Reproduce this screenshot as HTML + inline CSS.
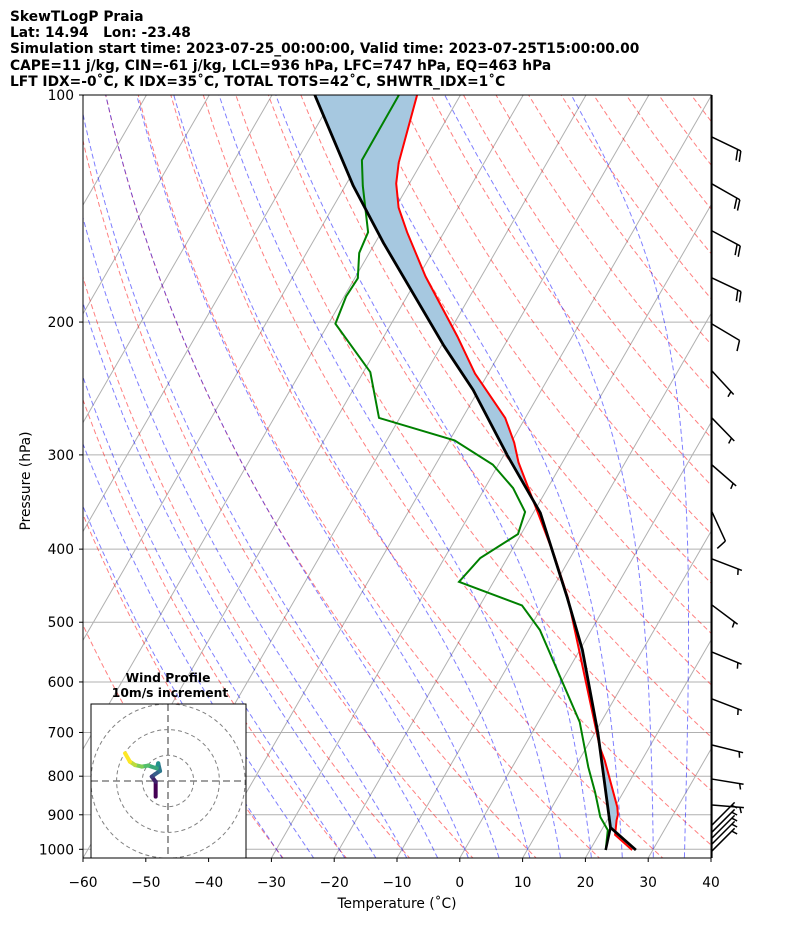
<!DOCTYPE html>
<html><head><meta charset="utf-8"><style>
html,body{margin:0;padding:0;background:#fff;}
svg{display:block;font-family:"DejaVu Sans","Liberation Sans",sans-serif;}
</style></head><body>
<svg id="chart" width="794" height="937" viewBox="0 0 794 937" xmlns="http://www.w3.org/2000/svg">
<defs><clipPath id="plotclip"><rect x="83" y="95" width="628" height="763"/></clipPath>
<clipPath id="hodoclip"><rect x="91" y="704" width="155" height="154"/></clipPath></defs>
<g font-weight="bold" font-size="13.8" fill="#000">
<text x="10" y="21">SkewTLogP Praia</text>
<text x="10" y="37" xml:space="preserve">Lat: 14.94   Lon: -23.48</text>
<text x="10" y="53">Simulation start time: 2023-07-25_00:00:00, Valid time: 2023-07-25T15:00:00.00</text>
<text x="10" y="70">CAPE=11 j/kg, CIN=-61 j/kg, LCL=936 hPa, LFC=747 hPa, EQ=463 hPa</text>
<text x="10" y="86">LFT IDX=-0˚C, K IDX=35˚C, TOTAL TOTS=42˚C, SHWTR_IDX=1˚C</text>
</g>
<g id="bg" clip-path="url(#plotclip)"></g>
<g id="data" clip-path="url(#plotclip)"></g>
<rect x="83" y="95" width="628" height="763" fill="none" stroke="#000" stroke-width="1"/>
<g id="axes"></g>
<g id="barbs"></g>
<g id="hodo"></g>
<text x="397" y="908" font-size="13.8" text-anchor="middle">Temperature (˚C)</text>
<text x="30" y="481" font-size="13.8" text-anchor="middle" transform="rotate(-90 30 481)">Pressure (hPa)</text>
</svg>
<script>
// ---- data ----
const tempP = [1002, 957, 915, 900, 879, 762, 732, 464, 410, 363, 307, 289, 268, 234, 209, 174, 152, 141, 131, 123, 100];
const tempT = [26.7, 22.6, 21.5, 21.2, 20.4, 14.1, 12.1, -6.7, -12.5, -18.6, -27.0, -29.5, -33.2, -42.1, -48.3, -58.9, -65.9, -69.5, -72.1, -73.6, -76.9];
const dewP = [1002, 943, 906, 840, 778, 678, 512, 475, 442, 411, 382, 357, 332, 309, 287, 268, 233, 201, 185, 175, 162, 152, 132, 122, 100];
const dewT = [22.5, 21.0, 18.6, 15.5, 12.1, 6.6, -8.2, -13.3, -25.5, -24.3, -20.5, -21.4, -25.5, -30.9, -39.2, -53.3, -58.9, -68.9, -69.7, -69.5, -71.6, -72.1, -77.2, -79.7, -79.8];
const parcelP = [1002, 936, 701, 544, 464, 358, 300, 246, 215, 157, 132, 100];
const parcelT = [27.3, 21.2, 10.5, 0.4, -6.8, -18.9, -29.5, -40.9, -49.6, -68.7, -78.7, -93.2];
const barbP = [113.7, 131.2, 151.4, 174.8, 201.2, 232.2, 268.1, 309.4, 357.1, 412.2, 474.5, 547.6, 632.0, 727.3, 807, 873.6, 928.6, 948.7, 966.1, 984, 1005];
const barbU = [-18.0, -17.4, -17.6, -18.1, -8.6, -3.4, -3.5, -3.8, -4.2, -4.7, -4.0, -4.6, -4.7, -4.85, -4.9, -5.0, -3.5, -3.5, -3.5, -3.5, -3.5];
const barbV = [8.7, 9.9, 9.4, 8.5, 5.1, 3.7, 3.6, 3.3, 9.1, 1.8, 3.0, 1.9, 1.8, 1.2, 0.8, 0.4, -3.5, -3.5, -3.5, -3.5, -3.5];
const hodoU = [-4.8, -4.8, -6.3, -5.1, -3.1, -3.8, -4.4, -7.7, -10.2, -12.8, -14.8, -16.7];
const hodoV = [-6.1, -0.3, 1.7, 2.6, 3.9, 6.9, 4.9, 6.0, 5.6, 6.2, 7.5, 10.8];
const xTicks = [-60, -50, -40, -30, -20, -10, 0, 10, 20, 30, 40];
const pTicks = [100, 200, 300, 400, 500, 600, 700, 800, 900, 1000];
const sfcP = 1002, sfcTd = 22.5, lclP = 936, lclT = 21.2;

const NS = 'http://www.w3.org/2000/svg';
const yP = p => 95 + 754.3 * Math.log10(p / 100);
const xT = (T, p) => 83 + (T + 60) * 6.28 + 0.577 * (858 - yP(p));
function mk(tag, attrs, parent) { const e = document.createElementNS(NS, tag); for (const k in attrs) e.setAttribute(k, attrs[k]); parent.appendChild(e); return e; }
const bg = document.getElementById('bg'), dg = document.getElementById('data'), ax = document.getElementById('axes');
const pts = arr => arr.map(a => a[0].toFixed(1) + ',' + a[1].toFixed(1)).join(' ');

function es(Tc) { return 6.112 * Math.exp(17.67 * Tc / (Tc + 243.5)); }
function dTdp(p, Tk) { const e = es(Tk - 273.15); const rs = 0.622 * e / (p - e); const L = 2.501e6; return (287 * Tk + L * rs) / (1004 + L * L * rs * 0.622 / (287 * Tk * Tk)) / p; }
function moist(T0, p0, p1) { const out = [[p0, T0]]; let Tk = T0 + 273.15, p = p0; const dp = p1 < p0 ? -2 : 2; while ((dp < 0 && p > p1) || (dp > 0 && p < p1)) { const k1 = dTdp(p, Tk); const k2 = dTdp(p + dp, Tk + k1 * dp); Tk += 0.5 * (k1 + k2) * dp; p += dp; out.push([p, Tk - 273.15]); } return out; }

pTicks.forEach(p => {
  const l = mk('line', { x1: 83, x2: 711, y1: yP(p), y2: yP(p), stroke: '#b0b0b0', 'stroke-width': 1 }, bg);
  
  
});
for (let T = -160; T <= 40; T += 10) {
  const l = mk('line', { x1: xT(T, 1027), y1: 858, x2: xT(T, 100), y2: 95, stroke: '#b0b0b0', 'stroke-width': 1 }, bg);
  
  
}
for (let T0 = -40; T0 <= 200; T0 += 10) {
  const a = []; for (let p = 1050; p >= 100; p -= 10) { const T = (T0 + 273.15) * Math.pow(p / 1000, 0.2857) - 273.15; a.push([xT(T, p), yP(p)]); }
  const l = mk('polyline', { points: pts(a), fill: 'none', stroke: 'rgba(255,0,0,0.5)', 'stroke-width': 1, 'stroke-dasharray': '5,3' }, bg);
  
  
}
for (let T0 = -30; T0 <= 35; T0 += 5) {
  const up = moist(T0, 1000, 100), dn = moist(T0, 1000, 1050);
  const a = dn.reverse().concat(up.slice(1)).map(q => [xT(q[1], q[0]), yP(q[0])]);
  const l = mk('polyline', { points: pts(a), fill: 'none', stroke: 'rgba(0,0,255,0.5)', 'stroke-width': 1, 'stroke-dasharray': '5,3' }, bg);
  
  
}
const tempXY = tempP.map((p, i) => [xT(tempT[i], p), yP(p)]);
const parXY = parcelP.map((p, i) => [xT(parcelT[i], p), yP(p)]);
const shade = mk('polygon', { points: pts(tempXY.concat(parXY.slice().reverse())), fill: '#a6c8e0', stroke: 'none', 'fill-rule': 'evenodd' }, dg);


const dewLine = mk('polyline', { points: pts(dewP.map((p, i) => [xT(dewT[i], p), yP(p)])), fill: 'none', stroke: '#008000', 'stroke-width': 2 }, dg);


const tLine = mk('polyline', { points: pts(tempXY), fill: 'none', stroke: '#ff0000', 'stroke-width': 2 }, dg);


const mixL = mk('polyline', { points: pts([[xT(sfcTd, sfcP), yP(sfcP)], [xT(lclT, lclP), yP(lclP)]]), fill: 'none', stroke: '#000', 'stroke-width': 2.5 }, dg);


const pLine = mk('polyline', { points: pts(parXY), fill: 'none', stroke: '#000', 'stroke-width': 2.8, 'stroke-linejoin': 'round' }, dg);



xTicks.forEach(T => {
  const x = 83 + (T + 60) * 6.28;
  mk('line', { x1: x, x2: x, y1: 858, y2: 862, stroke: '#000' }, ax);
  const t = mk('text', { x: x, y: 887, 'font-size': 13.8, 'text-anchor': 'middle' }, ax);
  t.textContent = (T < 0 ? '\u2212' + (-T) : T);
  
  
});
pTicks.forEach(p => {
  const y = yP(p);
  mk('line', { x1: 79, x2: 83, y1: y, y2: y, stroke: '#000' }, ax);
  const t = mk('text', { x: 74, y: y + 5, 'font-size': 13.8, 'text-anchor': 'end' }, ax);
  t.textContent = p;
  
  
});

const bgrp = document.getElementById('barbs');
const spine = mk('line', { x1: 712, x2: 712, y1: 95, y2: 858, stroke: '#000', 'stroke-width': 1.2 }, bgrp);


barbP.forEach((p, i) => {
  const u = barbU[i], v = barbV[i], spd = Math.hypot(u, v);
  const sx = -u / spd, sy = v / spd, L = 32;
  const bx = 712, by = yP(p), ex = bx + sx * L, ey = by + sy * L;
  const g = mk('g', { stroke: '#000', 'stroke-width': 1.5, fill: 'none' }, bgrp);
  
  
  mk('line', { x1: bx, y1: by, x2: ex, y2: ey }, g);
  let px = -sy * 0.95 + sx * 0.3, py = sx * 0.95 + sy * 0.3; const n = Math.hypot(px, py); px /= n; py /= n;
  let rem = Math.round(spd / 5) * 5, pos = 0;
  while (rem >= 10) { const cx = ex - sx * pos, cy = ey - sy * pos; mk('line', { x1: cx, y1: cy, x2: cx + px * 11, y2: cy + py * 11 }, g); rem -= 10; pos += 3.5; }
  if (rem >= 5) { if (pos === 0) pos = 4; const cx = ex - sx * pos, cy = ey - sy * pos; mk('line', { x1: cx, y1: cy, x2: cx + px * 6, y2: cy + py * 6 }, g); }
});

const hg = document.getElementById('hodo');


const hcx = 168, hcy = 781, hs = 2.57;
mk('rect', { x: 91, y: 704, width: 155, height: 154, fill: '#fff', stroke: 'none' }, hg);
const hin = mk('g', { 'clip-path': 'url(#hodoclip)' }, hg);
[10, 20, 30].forEach(r => {
  const c = mk('circle', { cx: hcx, cy: hcy, r: r * hs, fill: 'none', stroke: '#808080', 'stroke-width': 1, 'stroke-dasharray': '4,3' }, hin);
  
  
});
mk('line', { x1: 91, x2: 246, y1: hcy, y2: hcy, stroke: '#808080', 'stroke-width': 1.6, 'stroke-dasharray': '7,4' }, hin);
mk('line', { x1: hcx, x2: hcx, y1: 704, y2: 858, stroke: '#808080', 'stroke-width': 1.6, 'stroke-dasharray': '7,4' }, hin);
const vir = ['#440154', '#3b528b', '#21918c', '#5ec962', '#fde725'];
function vcol(t) { const f = t * 4, i = Math.min(3, Math.floor(f)), r = f - i; const a = vir[i], b = vir[i + 1]; const c = k => Math.round(parseInt(a.substr(k, 2), 16) * (1 - r) + parseInt(b.substr(k, 2), 16) * r); return 'rgb(' + c(1) + ',' + c(3) + ',' + c(5) + ')'; }
for (let i = 0; i < hodoU.length - 1; i++) {
  const s = mk('line', { x1: hcx + hodoU[i] * hs, y1: hcy - hodoV[i] * hs, x2: hcx + hodoU[i + 1] * hs, y2: hcy - hodoV[i + 1] * hs, stroke: vcol(i / (hodoU.length - 2)), 'stroke-width': 4, 'stroke-linecap': 'round' }, hin);
  
  
}
mk('rect', { x: 91, y: 704, width: 155, height: 154, fill: 'none', stroke: '#000', 'stroke-width': 1 }, hg);
const ht1 = mk('text', { x: 168, y: 682, 'font-size': 12.3, 'font-weight': 'bold', 'text-anchor': 'middle' }, hg);
ht1.textContent = 'Wind Profile';


const ht2 = mk('text', { x: 170, y: 697, 'font-size': 12.3, 'font-weight': 'bold', 'text-anchor': 'middle' }, hg);
ht2.textContent = '10m/s increment';


</script>
</body></html>
